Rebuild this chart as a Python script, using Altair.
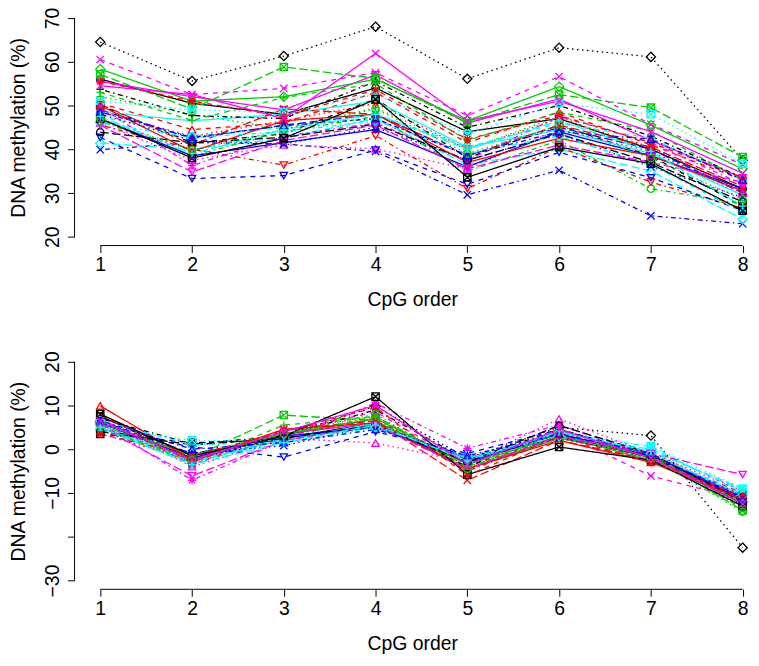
import altair as alt
import pandas as pd

cpg_order = [1, 2, 3, 4, 5, 6, 7, 8]

# Top panel: DNA methylation (%) per sample across the 8 CpG sites
raw_s01 = [56.0, 50.5, 48.0, 54.0, 44.0, 47.0, 40.0, 31.0]
raw_s02 = [50.5, 44.5, 46.0, 53.0, 41.5, 48.5, 41.0, 33.0]
raw_s03 = [52.0, 48.0, 44.5, 49.5, 40.0, 47.5, 39.5, 29.5]
raw_s04 = [39.9, 41.5, 41.2, 39.5, 29.6, 35.2, 24.8, 23.0]
raw_s05 = [41.4, 40.0, 42.5, 47.0, 36.5, 40.0, 35.0, 24.0]
raw_s06 = [55.5, 52.0, 49.0, 57.0, 46.0, 51.5, 42.0, 33.5]
raw_s07 = [50.0, 41.5, 43.5, 51.5, 38.0, 45.5, 38.5, 27.0]
raw_s08 = [48.5, 43.0, 46.5, 50.5, 40.0, 47.0, 40.5, 30.5]
raw_s09 = [46.5, 38.5, 44.0, 47.5, 35.0, 42.0, 31.0, 27.5]
raw_s10 = [49.0, 42.5, 45.5, 48.0, 38.5, 45.0, 40.0, 30.0]
raw_s11 = [48.5, 46.5, 48.0, 51.0, 40.5, 44.5, 39.0, 29.5]
raw_s12 = [60.5, 52.5, 53.9, 57.5, 47.7, 56.6, 45.7, 36.5]
raw_s13 = [64.5, 55.6, 61.3, 68.0, 56.1, 63.2, 61.1, 37.5]
raw_s14 = [45.5, 40.0, 36.4, 43.1, 31.0, 40.5, 32.5, 26.5]
raw_s15 = [57.1, 49.2, 58.8, 56.2, 46.0, 52.5, 49.5, 38.2]
raw_s16 = [47.0, 38.5, 41.5, 44.5, 36.0, 44.0, 38.5, 31.0]
raw_s17 = [47.5, 43.0, 45.0, 48.0, 40.5, 46.0, 42.5, 33.0]
raw_s18 = [46.0, 37.5, 41.0, 40.1, 35.5, 44.5, 39.5, 30.0]
raw_s19 = [53.7, 47.7, 47.0, 55.5, 45.0, 50.0, 43.0, 33.5]
raw_s20 = [50.3, 41.0, 49.2, 48.0, 38.5, 45.5, 40.5, 31.5]
raw_s21 = [58.3, 51.0, 52.0, 56.0, 46.5, 54.3, 45.5, 35.5]
raw_s22 = [42.7, 33.3, 34.0, 39.8, 32.0, 39.3, 33.5, 26.0]
raw_s23 = [51.0, 49.0, 48.5, 52.5, 43.5, 50.5, 48.0, 36.7]
raw_s24 = [49.5, 36.3, 43.0, 46.0, 37.5, 47.5, 41.5, 32.0]
raw_s25 = [43.9, 41.5, 42.7, 45.7, 37.5, 43.5, 37.0, 28.0]
raw_s26 = [50.0, 39.5, 46.5, 48.0, 37.0, 42.5, 38.5, 30.5]
raw_s27 = [53.0, 46.6, 51.8, 55.0, 42.0, 48.5, 44.2, 33.0]
raw_s28 = [48.0, 42.0, 41.2, 45.0, 37.5, 43.5, 36.0, 29.0]
raw_s29 = [46.0, 42.7, 44.0, 46.5, 39.0, 43.0, 36.5, 25.5]
raw_s30 = [45.5, 34.8, 42.0, 45.5, 35.5, 41.0, 37.0, 32.5]
raw_s31 = [47.0, 38.0, 42.5, 51.4, 33.6, 40.5, 36.7, 26.0]
raw_s32 = [55.5, 51.0, 47.5, 53.6, 42.3, 47.7, 41.5, 33.5]
raw_s33 = [47.0, 39.8, 44.5, 49.2, 39.0, 45.5, 38.0, 28.5]
raw_s34 = [48.5, 42.7, 45.4, 47.0, 38.6, 44.0, 42.3, 33.0]
raw_s35 = [47.5, 39.0, 44.5, 48.0, 40.0, 46.5, 39.5, 27.0]
raw_s36 = [54.5, 52.5, 47.0, 61.9, 46.5, 51.0, 44.0, 34.5]

# Bottom panel: per-sample centred DNA methylation (%)
ctr_s01 = [7.5, -1.5, 2.5, 6.0, -3.0, 3.5, -2.0, -12.5]
ctr_s02 = [5.0, -2.5, 3.5, 6.5, -4.0, 3.0, -1.5, -10.0]
ctr_s03 = [5.5, -1.0, 2.5, 7.0, -3.5, 4.0, -1.0, -13.0]
ctr_s04 = [6.0, -2.0, 2.0, 6.0, -2.5, 3.5, -2.5, -11.0]
ctr_s05 = [4.5, -3.0, 2.5, 5.5, -3.0, 3.0, 0.0, -9.5]
ctr_s06 = [6.5, -2.0, 3.5, 6.0, -4.5, 2.5, -1.5, -11.0]
ctr_s07 = [3.5, 1.5, 2.0, 5.5, -4.0, 4.5, -1.0, -12.0]
ctr_s08 = [3.5, -2.5, 4.5, 7.5, -4.5, 3.0, -0.5, -11.0]
ctr_s09 = [5.0, -3.5, 3.0, 7.5, -3.5, 3.5, -2.0, -13.5]
ctr_s10 = [6.5, -1.0, 2.5, 5.0, -2.0, 3.5, -1.5, -10.5]
ctr_s11 = [5.0, -2.5, 2.0, 6.0, -3.0, 4.0, -1.0, -10.5]
ctr_s12 = [7.0, -3.5, 4.0, 8.5, -3.5, 4.0, -6.1, -11.5]
ctr_s13 = [6.3, -2.6, 3.1, 9.8, -2.1, 5.0, 3.1, -22.5]
ctr_s14 = [6.0, -1.5, 3.0, 7.0, -5.0, 3.0, -2.0, -11.5]
ctr_s15 = [5.5, -2.0, 7.8, 6.5, -4.5, 2.5, -1.5, -14.0]
ctr_s16 = [6.0, -2.0, 3.0, 5.0, -3.0, 3.5, -1.5, -11.5]
ctr_s17 = [5.5, -3.0, 2.0, 5.5, -2.5, 4.0, 0.5, -10.0]
ctr_s18 = [6.5, -4.0, 2.5, 1.4, -3.0, 6.9, -1.0, -9.5]
ctr_s19 = [7.0, 1.2, 3.0, 9.0, -2.5, 4.5, -1.5, -12.5]
ctr_s20 = [8.0, -3.0, 4.5, 6.5, -7.1, 2.0, -2.5, -11.0]
ctr_s21 = [6.0, -1.5, 3.5, 7.0, -3.5, 3.0, -2.5, -12.0]
ctr_s22 = [4.5, 0.5, -1.8, 4.0, -1.0, 4.5, -1.5, -11.0]
ctr_s23 = [5.0, 2.0, 2.0, 5.0, -2.0, 3.5, 0.7, -9.0]
ctr_s24 = [6.0, -7.1, 2.0, 10.5, 0.2, 5.5, -1.5, -12.0]
ctr_s25 = [4.0, 1.0, 2.5, 5.5, -3.0, 5.4, -1.0, -12.0]
ctr_s26 = [9.9, -2.5, 4.5, 6.0, -4.5, 2.0, -3.0, -11.5]
ctr_s27 = [5.0, -3.0, 5.5, 7.5, -4.0, 2.5, -1.0, -13.5]
ctr_s28 = [6.0, -1.0, 0.8, 5.5, -2.0, 2.5, -1.5, -10.5]
ctr_s29 = [6.5, 1.0, 1.5, 5.0, -2.0, 3.0, -1.0, -10.5]
ctr_s30 = [5.0, -6.1, 2.0, 5.5, -4.5, 3.0, -1.0, -5.8]
ctr_s31 = [8.0, -1.5, 3.0, 12.0, -5.8, 0.5, -2.5, -13.0]
ctr_s32 = [3.5, -1.5, 4.0, 9.5, -6.0, 3.0, -3.0, -10.7]
ctr_s33 = [5.5, -2.5, 3.5, 8.0, -4.5, 4.0, -2.0, -14.3]
ctr_s34 = [6.5, 0.0, 1.5, 4.5, -1.5, 3.5, -1.0, -11.5]
ctr_s35 = [5.0, -3.5, 1.5, 5.5, -2.5, 4.0, -0.5, -9.0]
ctr_s36 = [6.5, -2.5, 4.0, 10.0, -3.5, 4.5, -2.0, -12.5]

raw_series = [raw_s01, raw_s02, raw_s03, raw_s04, raw_s05, raw_s06, raw_s07, raw_s08, raw_s09,
              raw_s10, raw_s11, raw_s12, raw_s13, raw_s14, raw_s15, raw_s16, raw_s17, raw_s18,
              raw_s19, raw_s20, raw_s21, raw_s22, raw_s23, raw_s24, raw_s25, raw_s26, raw_s27,
              raw_s28, raw_s29, raw_s30, raw_s31, raw_s32, raw_s33, raw_s34, raw_s35, raw_s36]
ctr_series = [ctr_s01, ctr_s02, ctr_s03, ctr_s04, ctr_s05, ctr_s06, ctr_s07, ctr_s08, ctr_s09,
              ctr_s10, ctr_s11, ctr_s12, ctr_s13, ctr_s14, ctr_s15, ctr_s16, ctr_s17, ctr_s18,
              ctr_s19, ctr_s20, ctr_s21, ctr_s22, ctr_s23, ctr_s24, ctr_s25, ctr_s26, ctr_s27,
              ctr_s28, ctr_s29, ctr_s30, ctr_s31, ctr_s32, ctr_s33, ctr_s34, ctr_s35, ctr_s36]

# R matplot style cycles: col 1:6, lty 1:5, pch 1:8
palette = ["#000000", "#FF0000", "#00CD00", "#0000FF", "#00FFFF", "#FF00FF"]
dash_cycle = [[1, 0], [5, 5], [1.5, 3.5], [1.5, 3.5, 5, 3.5], [8.5, 3.5]]
PLUS = "M-1,0L1,0M0,-1L0,1"
XMARK = "M-1,-1L1,1M-1,1L1,-1"
DIAMOND = "M0,-1.25L1.25,0L0,1.25L-1.25,0Z"
SQX = "M-1,-1L1,-1L1,1L-1,1ZM-1,-1L1,1M-1,1L1,-1"
AST = "M-1.1,0L1.1,0M0,-1.1L0,1.1M-0.8,-0.8L0.8,0.8M-0.8,0.8L0.8,-0.8"
shape_cycle = ["circle", "triangle-up", PLUS, XMARK, DIAMOND, "triangle-down", SQX, AST]

series_ids = [f"S{k + 1:02d}" for k in range(len(raw_series))]
colors = [palette[k % 6] for k in range(len(series_ids))]
dashes = [dash_cycle[k % 5] for k in range(len(series_ids))]
shapes = [shape_cycle[k % 8] for k in range(len(series_ids))]

rows = []
for sid, r, c in zip(series_ids, raw_series, ctr_series):
    for x, v1, v2 in zip(cpg_order, r, c):
        rows.append({"series": sid, "cpg": x, "raw": v1, "centered": v2})
df = pd.DataFrame(rows)

FONT = "Liberation Sans"
FS = 19.5
W, H = 680, 238
xdom = [0.72, 8.08]

color_enc = alt.Color("series:N", scale=alt.Scale(domain=series_ids, range=colors), legend=None)
dash_enc = alt.StrokeDash("series:N", scale=alt.Scale(domain=series_ids, range=dashes), legend=None)
shape_enc = alt.Shape("series:N", scale=alt.Scale(domain=series_ids, range=shapes), legend=None)


def panel(field, ydom, yticks, label_expr):
    xscale = alt.Scale(domain=xdom, nice=False, zero=False)
    yscale = alt.Scale(domain=ydom, nice=False, zero=False)
    xaxis = alt.Axis(values=cpg_order, title="CpG order", tickSize=7, labelPadding=3,
                     titlePadding=17, labelFlush=False, format="d")
    yaxis = alt.Axis(values=yticks, title="DNA methylation (%)", tickSize=7, labelAngle=-90,
                     labelAlign="center", labelBaseline="bottom", labelPadding=5,
                     titlePadding=14, labelExpr=label_expr, labelOverlap=False)
    base = alt.Chart(df)
    x = alt.X("cpg:Q", scale=xscale, axis=xaxis)
    y = alt.Y(f"{field}:Q", scale=yscale, axis=yaxis)
    lines = base.mark_line(strokeWidth=1.3).encode(x=x, y=y, color=color_enc,
                                                   strokeDash=dash_enc, detail="series:N")
    points = base.mark_point(filled=False, size=55, strokeWidth=1.3, opacity=1).encode(
        x=x, y=y, color=color_enc, shape=shape_enc)
    xline = alt.Chart(pd.DataFrame({"a": [cpg_order[0]], "b": [cpg_order[-1]]})).mark_rule(
        color="black", strokeWidth=1).encode(
        x=alt.X("a:Q", scale=xscale, axis=xaxis), x2="b:Q", y=alt.datum(ydom[0]))
    yline = alt.Chart(pd.DataFrame({"a": [yticks[0]], "b": [yticks[-1]]})).mark_rule(
        color="black", strokeWidth=1).encode(
        y=alt.Y("a:Q", scale=yscale, axis=yaxis), y2="b:Q", x=alt.datum(xdom[0]))
    return alt.layer(lines, points, xline, yline).properties(width=W, height=H)


top = panel("raw", [18, 72], [20, 30, 40, 50, 60, 70], "datum.label")
bottom = panel("centered", [-32, 22], [-30, -20, -10, 0, 10, 20],
               "datum.value == -20 ? '' : datum.label")

chart = alt.vconcat(top, bottom, spacing=108, bounds="flush").properties(
    padding={"left": 0, "top": -4, "right": 0, "bottom": 0}
).configure_view(stroke="transparent").configure_axis(
    grid=False, domain=False, labelFont=FONT, titleFont=FONT, labelFontSize=FS,
    titleFontSize=FS, titleFontWeight="normal", labelColor="black", titleColor="black",
    tickColor="black", tickWidth=1
)

chart.save("out.html", embed_options={"renderer": "svg", "actions": False})
